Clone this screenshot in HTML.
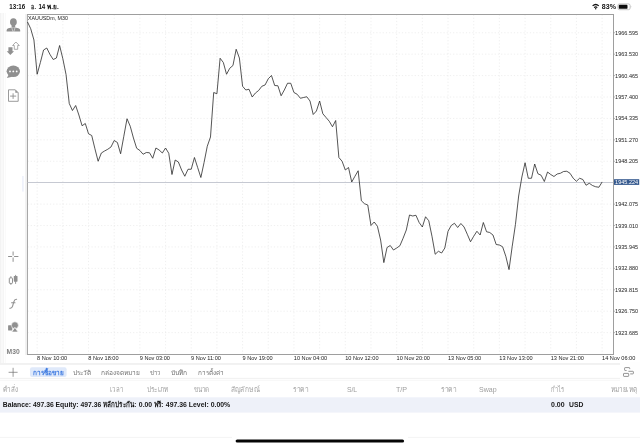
<!DOCTYPE html>
<html lang="th"><head><meta charset="utf-8"><title>XAUUSDm, M30</title>
<style>html,body{margin:0;padding:0;background:#fff;overflow:hidden}svg{display:block}text{font-family:"Liberation Sans", sans-serif}</style>
</head><body>
<svg width="640" height="447" viewBox="0 0 640 447" role="img" aria-label="XAUUSDm M30 chart">
<rect width="640" height="447" fill="#fff"/>
<rect x="0" y="13" width="0.7" height="350" fill="#ebebeb"/>
<rect x="0.7" y="13" width="3" height="350" fill="#f9f9f9"/>
<rect x="3.6" y="13" width="0.5" height="350" fill="#eeeeee"/>
<rect x="5.3" y="13" width="0.4" height="350" fill="#f3f3f3"/>
<g stroke="#e1e1e1" stroke-width="0.55" stroke-dasharray="1.2 2" fill="none">
<line x1="37.15" y1="14.5" x2="37.15" y2="354.5"/>
<line x1="62.83" y1="14.5" x2="62.83" y2="354.5"/>
<line x1="88.51" y1="14.5" x2="88.51" y2="354.5"/>
<line x1="114.19" y1="14.5" x2="114.19" y2="354.5"/>
<line x1="139.87" y1="14.5" x2="139.87" y2="354.5"/>
<line x1="165.55" y1="14.5" x2="165.55" y2="354.5"/>
<line x1="191.23" y1="14.5" x2="191.23" y2="354.5"/>
<line x1="216.91" y1="14.5" x2="216.91" y2="354.5"/>
<line x1="242.59" y1="14.5" x2="242.59" y2="354.5"/>
<line x1="268.27" y1="14.5" x2="268.27" y2="354.5"/>
<line x1="293.95" y1="14.5" x2="293.95" y2="354.5"/>
<line x1="319.63" y1="14.5" x2="319.63" y2="354.5"/>
<line x1="345.31" y1="14.5" x2="345.31" y2="354.5"/>
<line x1="370.99" y1="14.5" x2="370.99" y2="354.5"/>
<line x1="396.67" y1="14.5" x2="396.67" y2="354.5"/>
<line x1="422.35" y1="14.5" x2="422.35" y2="354.5"/>
<line x1="448.03" y1="14.5" x2="448.03" y2="354.5"/>
<line x1="473.71" y1="14.5" x2="473.71" y2="354.5"/>
<line x1="499.39" y1="14.5" x2="499.39" y2="354.5"/>
<line x1="525.07" y1="14.5" x2="525.07" y2="354.5"/>
<line x1="550.75" y1="14.5" x2="550.75" y2="354.5"/>
<line x1="576.43" y1="14.5" x2="576.43" y2="354.5"/>
<line x1="602.11" y1="14.5" x2="602.11" y2="354.5"/>
<line x1="27.5" y1="32.75" x2="613.5" y2="32.75"/>
<line x1="27.5" y1="54.17" x2="613.5" y2="54.17"/>
<line x1="27.5" y1="75.59" x2="613.5" y2="75.59"/>
<line x1="27.5" y1="97.01" x2="613.5" y2="97.01"/>
<line x1="27.5" y1="118.43" x2="613.5" y2="118.43"/>
<line x1="27.5" y1="139.85" x2="613.5" y2="139.85"/>
<line x1="27.5" y1="161.27" x2="613.5" y2="161.27"/>
<line x1="27.5" y1="204.11" x2="613.5" y2="204.11"/>
<line x1="27.5" y1="225.53" x2="613.5" y2="225.53"/>
<line x1="27.5" y1="246.95" x2="613.5" y2="246.95"/>
<line x1="27.5" y1="268.37" x2="613.5" y2="268.37"/>
<line x1="27.5" y1="289.79" x2="613.5" y2="289.79"/>
<line x1="27.5" y1="311.21" x2="613.5" y2="311.21"/>
<line x1="27.5" y1="332.63" x2="613.5" y2="332.63"/>
</g>
<rect x="25.2" y="14" width="1.8" height="341" fill="#efefef"/>
<rect x="22.1" y="176" width="1.6" height="15.6" fill="#eef1fb"/>
<g stroke="#9e9e9e" stroke-width="1" fill="none">
<line x1="27.5" y1="14" x2="27.5" y2="355" stroke="#a8a8a8"/>
<line x1="27" y1="14.5" x2="614" y2="14.5"/>
<line x1="613.5" y1="14" x2="613.5" y2="355"/>
<line x1="27" y1="354.5" x2="614" y2="354.5"/>
</g>
<line x1="27.5" y1="182.5" x2="613.5" y2="182.5" stroke="#c0c3cd" stroke-width="0.9"/>
<polyline fill="none" stroke="#242424" stroke-width="0.78" stroke-linejoin="round" points="27.52,22.00 30.73,28.75 33.94,40.00 37.15,74.25 40.36,62.50 43.57,50.00 46.78,48.00 49.99,54.50 53.20,59.50 56.41,58.00 59.62,45.50 62.83,58.75 66.04,74.50 69.25,103.50 72.46,110.50 75.67,105.50 78.88,115.00 82.09,125.75 85.30,123.50 88.51,133.75 91.72,135.50 94.93,148.75 98.14,161.25 101.35,153.00 104.56,151.00 107.77,149.25 110.98,147.00 114.19,140.50 117.40,142.50 120.61,153.75 123.82,136.25 127.03,118.75 130.24,126.25 133.45,138.00 136.66,148.25 139.87,150.50 143.08,154.25 146.29,152.50 149.50,152.75 152.71,158.25 155.92,148.00 159.13,150.00 162.34,153.00 165.55,148.00 168.76,153.25 171.97,174.50 175.18,160.00 178.39,162.00 181.60,170.00 184.81,176.25 188.02,169.25 191.23,169.25 194.44,157.50 197.65,167.50 200.86,177.50 204.07,162.50 207.28,146.25 210.49,137.00 213.70,92.50 216.91,93.75 220.12,58.25 223.33,62.50 226.54,74.25 229.75,68.25 232.96,65.50 236.17,49.25 239.38,58.00 242.59,86.25 245.80,90.00 249.01,89.25 252.22,97.00 255.43,93.00 258.64,90.50 261.85,86.25 265.06,85.00 268.27,78.75 271.48,75.50 274.69,85.50 277.90,85.75 281.11,95.75 284.32,90.00 287.53,83.25 290.74,83.25 293.95,92.50 297.16,94.25 300.37,98.25 303.58,97.50 306.79,96.75 310.00,101.00 313.21,114.50 316.42,111.00 319.63,101.00 322.84,113.75 326.05,117.50 329.26,121.25 332.47,126.75 335.68,120.50 338.89,157.50 342.10,161.25 345.31,170.00 348.52,167.50 351.73,182.00 354.94,176.25 358.15,170.75 361.36,200.75 364.57,203.75 367.78,205.00 370.99,225.50 374.20,222.00 377.41,226.25 380.62,240.00 383.83,262.60 387.04,247.50 390.25,245.50 393.46,250.00 396.67,248.00 399.88,245.75 403.09,238.25 406.30,230.00 409.51,215.00 412.72,216.00 415.93,215.25 419.14,222.50 422.35,227.00 425.56,216.75 428.77,220.75 431.98,236.25 435.19,254.25 438.40,251.25 441.61,253.00 444.82,248.00 448.03,231.25 451.24,225.50 454.45,223.25 457.66,227.50 460.87,223.50 464.08,227.00 467.29,234.25 470.50,241.75 473.71,236.25 476.92,231.25 480.13,235.00 483.34,222.50 486.55,231.75 489.76,232.50 492.97,235.00 496.18,244.50 499.39,245.00 502.60,246.75 505.81,256.25 509.02,269.60 512.23,246.25 515.44,224.50 518.65,196.00 521.86,177.00 525.07,162.75 528.28,178.25 531.49,178.25 534.70,164.00 537.91,173.75 541.12,175.25 544.33,181.50 547.54,172.00 550.75,174.50 553.96,176.50 557.17,174.00 560.38,173.25 563.59,171.50 566.80,171.25 570.01,173.25 573.22,178.25 576.43,181.25 579.64,178.25 582.85,179.50 586.06,185.25 589.27,183.25 592.48,185.50 595.69,186.75 598.90,187.25 602.11,182.00"/>
<g font-size="5.7" fill="#1a1a1a">
<line x1="613.5" y1="32.75" x2="615.0" y2="32.75" stroke="#8c8c8c" stroke-width="0.6"/>
<text x="615.1" y="34.80" textLength="23" lengthAdjust="spacingAndGlyphs">1966.595</text>
<line x1="613.5" y1="54.17" x2="615.0" y2="54.17" stroke="#8c8c8c" stroke-width="0.6"/>
<text x="615.1" y="56.22" textLength="23" lengthAdjust="spacingAndGlyphs">1963.530</text>
<line x1="613.5" y1="75.59" x2="615.0" y2="75.59" stroke="#8c8c8c" stroke-width="0.6"/>
<text x="615.1" y="77.64" textLength="23" lengthAdjust="spacingAndGlyphs">1960.465</text>
<line x1="613.5" y1="97.01" x2="615.0" y2="97.01" stroke="#8c8c8c" stroke-width="0.6"/>
<text x="615.1" y="99.06" textLength="23" lengthAdjust="spacingAndGlyphs">1957.400</text>
<line x1="613.5" y1="118.43" x2="615.0" y2="118.43" stroke="#8c8c8c" stroke-width="0.6"/>
<text x="615.1" y="120.48" textLength="23" lengthAdjust="spacingAndGlyphs">1954.335</text>
<line x1="613.5" y1="139.85" x2="615.0" y2="139.85" stroke="#8c8c8c" stroke-width="0.6"/>
<text x="615.1" y="141.90" textLength="23" lengthAdjust="spacingAndGlyphs">1951.270</text>
<line x1="613.5" y1="161.27" x2="615.0" y2="161.27" stroke="#8c8c8c" stroke-width="0.6"/>
<text x="615.1" y="163.32" textLength="23" lengthAdjust="spacingAndGlyphs">1948.205</text>
<line x1="613.5" y1="182.69" x2="615.0" y2="182.69" stroke="#8c8c8c" stroke-width="0.6"/>
<line x1="613.5" y1="204.11" x2="615.0" y2="204.11" stroke="#8c8c8c" stroke-width="0.6"/>
<text x="615.1" y="206.16" textLength="23" lengthAdjust="spacingAndGlyphs">1942.075</text>
<line x1="613.5" y1="225.53" x2="615.0" y2="225.53" stroke="#8c8c8c" stroke-width="0.6"/>
<text x="615.1" y="227.58" textLength="23" lengthAdjust="spacingAndGlyphs">1939.010</text>
<line x1="613.5" y1="246.95" x2="615.0" y2="246.95" stroke="#8c8c8c" stroke-width="0.6"/>
<text x="615.1" y="249.00" textLength="23" lengthAdjust="spacingAndGlyphs">1935.945</text>
<line x1="613.5" y1="268.37" x2="615.0" y2="268.37" stroke="#8c8c8c" stroke-width="0.6"/>
<text x="615.1" y="270.42" textLength="23" lengthAdjust="spacingAndGlyphs">1932.880</text>
<line x1="613.5" y1="289.79" x2="615.0" y2="289.79" stroke="#8c8c8c" stroke-width="0.6"/>
<text x="615.1" y="291.84" textLength="23" lengthAdjust="spacingAndGlyphs">1929.815</text>
<line x1="613.5" y1="311.21" x2="615.0" y2="311.21" stroke="#8c8c8c" stroke-width="0.6"/>
<text x="615.1" y="313.26" textLength="23" lengthAdjust="spacingAndGlyphs">1926.750</text>
<line x1="613.5" y1="332.63" x2="615.0" y2="332.63" stroke="#8c8c8c" stroke-width="0.6"/>
<text x="615.1" y="334.68" textLength="23" lengthAdjust="spacingAndGlyphs">1923.685</text>
</g>
<rect x="614" y="179.2" width="25.2" height="5.7" fill="#35598e"/>
<text x="615.1" y="184.05" font-size="5.7" fill="#fff" textLength="23" lengthAdjust="spacingAndGlyphs">1945.224</text>
<g font-size="5.6" fill="#222">
<text x="37.00" y="359.6">8 Nov 10:00</text>
<text x="88.37" y="359.6">8 Nov 18:00</text>
<text x="139.74" y="359.6">9 Nov 03:00</text>
<text x="191.11" y="359.6">9 Nov 11:00</text>
<text x="242.48" y="359.6">9 Nov 19:00</text>
<text x="293.85" y="359.6">10 Nov 04:00</text>
<text x="345.22" y="359.6">10 Nov 12:00</text>
<text x="396.59" y="359.6">10 Nov 20:00</text>
<text x="447.96" y="359.6">13 Nov 05:00</text>
<text x="499.33" y="359.6">13 Nov 13:00</text>
<text x="550.70" y="359.6">13 Nov 21:00</text>
<text x="602.07" y="359.6">14 Nov 06:00</text>
</g>
<text x="28" y="20.3" font-size="5.3" fill="#222" textLength="39.9" lengthAdjust="spacingAndGlyphs">XAUUSDm, M30</text>
<text x="9.3" y="9.1" font-size="6.5" font-weight="bold" fill="#111" textLength="15.8" lengthAdjust="spacingAndGlyphs">13:16</text>
<text font-size="6.5" font-weight="bold" fill="#111" y="9.1"><tspan x="31.1" textLength="4.8" lengthAdjust="spacingAndGlyphs">อ.</tspan> <tspan x="38.4" textLength="6.9" lengthAdjust="spacingAndGlyphs">14</tspan> <tspan x="47.3" textLength="11.5" lengthAdjust="spacingAndGlyphs">พ.ย.</tspan></text>
<text x="601.8" y="9.1" font-size="6.5" font-weight="bold" fill="#111" textLength="14.1" lengthAdjust="spacingAndGlyphs">83%</text>
<g fill="none" stroke="#111" stroke-linecap="butt"><path d="M592.6 5.9 Q595.7 3.1 598.8 5.9" stroke-width="1.2"/><path d="M594.1 7.6 Q595.7 6.2 597.3 7.6" stroke-width="1.1"/><circle cx="595.7" cy="8.8" r="0.75" fill="#111" stroke="none"/></g>
<rect x="617.9" y="3.9" width="12.2" height="5.8" rx="1.6" fill="none" stroke="#a0a0a0" stroke-width="0.6"/>
<rect x="618.8" y="4.8" width="8.7" height="4" rx="0.9" fill="#0c0c0c"/>
<path d="M630.8 5.8 q1 1 0 2 z" fill="#a0a0a0"/>
<g fill="#909090"><ellipse cx="13.4" cy="22.1" rx="3.4" ry="3.8"/><rect x="11.6" y="24.5" width="3.6" height="3"/><path d="M6.6 31.6 v-1.4 q0 -1.6 1.8 -2 l3.4 -0.8 h3.2 l3.4 0.8 q1.8 0.4 1.8 2 v1.4 z"/></g>
<path d="M11.7 27.4 l1.2 4.2 M15.1 27.4 l-1.2 4.2" stroke="#fff" stroke-width="0.5" fill="none"/>
<path d="M8.4 47.2 H12.5 V51.3 H14.1 L10.3 55.1 L6.7 51.3 H8.4 Z" fill="#909090"/>
<path d="M15.9 42 L19.3 45.5 H17.7 V49.3 H14.3 V45.5 H12.6 Z" fill="#fff" stroke="#909090" stroke-width="0.75" stroke-linejoin="round"/>
<g fill="#909090"><ellipse cx="13.3" cy="71.3" rx="6.7" ry="5.8"/><path d="M8.8 74.4 l-2 3.6 l5.4 -1.2 z"/></g>
<g fill="#fff"><circle cx="10" cy="71.4" r="0.9"/><circle cx="13.3" cy="71.4" r="0.9"/><circle cx="16.7" cy="71.4" r="0.9"/></g>
<path d="M8.5 89.8 h6.8 l2.9 2.9 v8.6 h-9.7 z" fill="#fff" stroke="#909090" stroke-width="0.9" stroke-linejoin="round"/>
<path d="M15.3 89.8 v2.9 h2.9 z" fill="#909090"/>
<path d="M13.1 93.3 v5.6 M10.1 96.1 h6.1" stroke="#909090" stroke-width="0.9" fill="none"/>
<path d="M13.1 251.5 v4 M13.1 257.5 v4.3 M8.1 256.5 h4 M14.1 256.5 h4.3" stroke="#909090" stroke-width="1" fill="none"/>
<path d="M10.9 276.2 v8.7" stroke="#909090" stroke-width="0.9"/>
<rect x="9.3" y="277.9" width="3.2" height="5.5" rx="0.6" fill="#fff" stroke="#909090" stroke-width="1"/>
<path d="M15.6 274.9 v9" stroke="#909090" stroke-width="0.9"/>
<rect x="13.8" y="276" width="3.7" height="5.7" rx="0.6" fill="#909090"/>
<path d="M9.8 308.2 q2.1 0.4 2.8 -2 l1.2 -4.4 q0.7 -2.6 2.8 -2.5 M11.6 302.8 h3.4" stroke="#909090" stroke-width="1.1" fill="none" stroke-linecap="round"/>
<rect x="8.1" y="325.2" width="4.2" height="5.4" rx="0.5" fill="#909090"/>
<circle cx="14.9" cy="325.3" r="3.5" fill="#909090" stroke="#fff" stroke-width="0.6"/>
<path d="M14.9 327.3 l3.3 4.8 h-6.6 z" fill="#909090" stroke="#fff" stroke-width="0.8" stroke-linejoin="round"/>
<text x="6.6" y="353.5" font-size="7.2" font-weight="bold" fill="#808080" textLength="13.1" lengthAdjust="spacingAndGlyphs">M30</text>
<rect x="0" y="363" width="640" height="1.9" fill="#f1f1f1"/>
<rect x="0" y="377.8" width="640" height="1.4" fill="#f2f2f2"/>
<rect x="0" y="380.3" width="640" height="0.7" fill="#f5f5f5"/>
<path d="M13.1 367.8 v9 M8.6 372.3 h9" stroke="#6e6e6e" stroke-width="0.7" fill="none"/>
<rect x="30" y="367.2" width="36.6" height="9.9" rx="2" fill="#dfe9fa"/>
<text x="32.8" y="374.6" font-size="6.4" font-weight="bold" fill="#3a78e0" textLength="31" lengthAdjust="spacingAndGlyphs">การซื้อขาย</text>
<text x="73.1" y="374.6" font-size="6.4" fill="#707070" textLength="18.2" lengthAdjust="spacingAndGlyphs">ประวัติ</text>
<text x="100.7" y="374.6" font-size="6.4" fill="#707070" textLength="39.9" lengthAdjust="spacingAndGlyphs">กล่องจดหมาย</text>
<text x="150.0" y="374.6" font-size="6.4" fill="#707070" textLength="10.9" lengthAdjust="spacingAndGlyphs">ข่าว</text>
<text x="170.6" y="374.6" font-size="6.4" fill="#707070" textLength="16.5" lengthAdjust="spacingAndGlyphs">บันทึก</text>
<text x="197.8" y="374.6" font-size="6.4" fill="#707070" textLength="25.9" lengthAdjust="spacingAndGlyphs">การตั้งค่า</text>
<rect x="620" y="362" width="20" height="19.4" fill="#fefefe"/>
<g fill="none" stroke="#7a7a7a" stroke-width="0.8" stroke-linejoin="round"><path d="M626.6 370.5 h-1.4 q-0.6 0 -0.6 -0.6 v-1.7 q0 -0.6 0.6 -0.6 h3.9 q0.6 0 0.6 0.6 v0.9"/><path d="M628.4 371.3 h4.4 q0.6 0 0.6 0.6 v1.4 q0 0.6 -0.6 0.6 h-2.6"/><rect x="623.5" y="373.4" width="5.2" height="3" rx="0.6"/></g>
<g font-size="7.5" fill="#9e9e9e">
<text x="3.0" y="391.5" textLength="15.0" lengthAdjust="spacingAndGlyphs">คำสั่ง</text>
<text x="110.0" y="391.5" textLength="13.0" lengthAdjust="spacingAndGlyphs">เวลา</text>
<text x="146.5" y="391.5" textLength="22.0" lengthAdjust="spacingAndGlyphs">ประเภท</text>
<text x="193.5" y="391.5" textLength="15.5" lengthAdjust="spacingAndGlyphs">ขนาด</text>
<text x="230.9" y="391.5" textLength="28.8" lengthAdjust="spacingAndGlyphs">สัญลักษณ์</text>
<text x="293.1" y="391.5" textLength="15.0" lengthAdjust="spacingAndGlyphs">ราคา</text>
<text x="346.9" y="391.5" textLength="10.3" lengthAdjust="spacingAndGlyphs">S/L</text>
<text x="395.9" y="391.5" textLength="11.1" lengthAdjust="spacingAndGlyphs">T/P</text>
<text x="441.2" y="391.5" textLength="15.0" lengthAdjust="spacingAndGlyphs">ราคา</text>
<text x="479.1" y="391.5" textLength="17.6" lengthAdjust="spacingAndGlyphs">Swap</text>
<text x="551.0" y="391.5" textLength="13.0" lengthAdjust="spacingAndGlyphs">กำไร</text>
<text x="610.6" y="391.5" textLength="26.6" lengthAdjust="spacingAndGlyphs">หมายเหตุ</text>
</g>
<rect x="0" y="397.3" width="640" height="15.3" fill="#eef1f9"/>
<g font-size="7.6" font-weight="bold" fill="#161616">
<text y="407.4"><tspan x="2.8" textLength="98.4" lengthAdjust="spacingAndGlyphs">Balance: 497.36 Equity: 497.36</tspan> <tspan x="102.9" textLength="33.4" lengthAdjust="spacingAndGlyphs">หลักประกัน:</tspan> <tspan x="138.8" textLength="13.4" lengthAdjust="spacingAndGlyphs">0.00</tspan> <tspan x="153.8" textLength="9.7" lengthAdjust="spacingAndGlyphs">ฟรี:</tspan> <tspan x="165.8" textLength="64.4" lengthAdjust="spacingAndGlyphs">497.36 Level: 0.00%</tspan></text>
<text y="407.4"><tspan x="551" textLength="13.6" lengthAdjust="spacingAndGlyphs">0.00</tspan> <tspan x="569.1" textLength="14.3" lengthAdjust="spacingAndGlyphs">USD</tspan></text>
</g>
<path d="M0 437.4 H232 M408 437.4 H640" stroke="#f1f1f1" stroke-width="0.8" fill="none"/>
<rect x="235.6" y="439.4" width="168.5" height="3.2" rx="1.6" fill="#050505"/>
</svg>
</body></html>
